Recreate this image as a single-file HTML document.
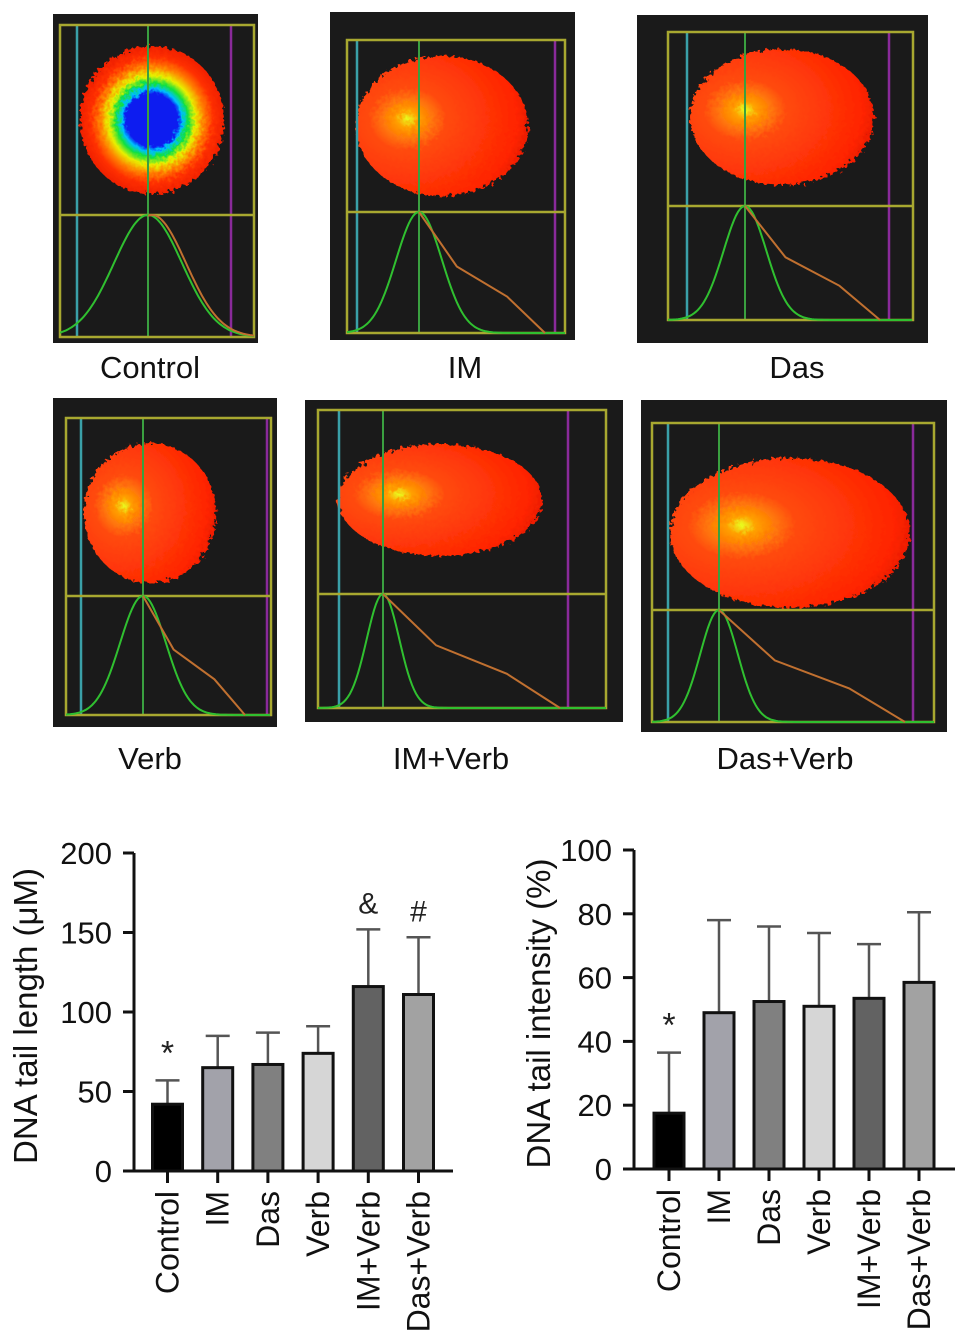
<!DOCTYPE html>
<html><head><meta charset="utf-8"><style>
body{margin:0;background:#fff;}
svg{display:block;font-family:"Liberation Sans",Arial,sans-serif;}
</style></head><body>
<svg id="fig" width="969" height="1344" viewBox="0 0 969 1344" xmlns="http://www.w3.org/2000/svg">
<defs>
<radialGradient id="cometG" cx="0.3" cy="0.45" r="0.75">
<stop offset="0" stop-color="#e8ff20"/><stop offset="0.08" stop-color="#ffa000"/><stop offset="0.3" stop-color="#ff4a10"/><stop offset="0.85" stop-color="#ff2400"/><stop offset="1" stop-color="#e01800"/>
</radialGradient>
<radialGradient id="ctrlG" cx="0.5" cy="0.5" r="0.5">
<stop offset="0.36" stop-color="#0a1ef0"/><stop offset="0.42" stop-color="#00c0ff"/><stop offset="0.5" stop-color="#10e040"/><stop offset="0.6" stop-color="#e8f000"/><stop offset="0.72" stop-color="#ff8000"/><stop offset="0.85" stop-color="#ff3000"/><stop offset="1" stop-color="#f02000"/>
</radialGradient>
<filter id="rough"><feTurbulence type="fractalNoise" baseFrequency="0.25" numOctaves="2" result="n"/><feDisplacementMap in="SourceGraphic" in2="n" scale="9"/></filter>
</defs>
<g id="panels"></g>
<g id="chart1"></g>
<g id="chart2"></g>
</svg>
<script>
const NS="http://www.w3.org/2000/svg";
function mk(p,t,a,txt){const e=document.createElementNS(NS,t);for(const k in a)e.setAttribute(k,a[k]);if(txt!==undefined)e.textContent=txt;p.appendChild(e);return e;}

const panels=[
 {name:'control',label:'Control',lx:150,ly:378,o:[53,14,258,343],f:[60,25,254,337],d:215,c:77,g:148,p:231,cx:152,cy:120,rx:72,ry:74,ctrl:true,tail:235},
 {name:'im',label:'IM',lx:465,ly:378,o:[330,12,575,340],f:[347,40,565,333],d:212,c:357,g:419,p:555,cx:442,cy:126,rx:86,ry:70,tail:545},
 {name:'das',label:'Das',lx:797,ly:378,o:[637,15,928,343],f:[668,32,913,320],d:206,c:687,g:745,p:889,cx:782,cy:117,rx:92,ry:68,tail:880},
 {name:'verb',label:'Verb',lx:150,ly:769,o:[53,398,277,727],f:[66,418,271,715],d:596,c:81,g:143,p:267,cx:150,cy:513,rx:66,ry:70,tail:245},
 {name:'im-verb',label:'IM+Verb',lx:451,ly:769,o:[305,400,623,722],f:[318,410,606,708],d:594,c:339,g:383,p:568,cx:440,cy:500,rx:102,ry:56,tail:560},
 {name:'das-verb',label:'Das+Verb',lx:785,ly:769,o:[641,400,947,732],f:[652,423,934,722],d:610,c:668,g:719,p:913,cx:790,cy:533,rx:120,ry:75,tail:905}
];
const P=document.getElementById('panels');
panels.forEach(q=>{
 const g=mk(P,'g',{});
 
 
 mk(g,'rect',{x:q.o[0],y:q.o[1],width:q.o[2]-q.o[0],height:q.o[3]-q.o[1],fill:'#1a1a1a'});
 mk(g,'ellipse',{cx:q.cx,cy:q.cy,rx:q.rx,ry:q.ry,fill:q.ctrl?'url(#ctrlG)':'url(#cometG)',filter:'url(#rough)'});
 const [x1,y1,x2,y2]=q.f;
 mk(g,'line',{x1:q.c,y1:y1,x2:q.c,y2:y2,stroke:'#3aa0a8','stroke-width':2.5});
 mk(g,'line',{x1:q.p,y1:y1,x2:q.p,y2:y2,stroke:'#8a2a9a','stroke-width':2.5});
 mk(g,'line',{x1:q.g,y1:y1,x2:q.g,y2:y2,stroke:'#3aa040','stroke-width':2});
 mk(g,'rect',{x:x1,y:y1,width:x2-x1,height:y2-y1,fill:'none',stroke:'#a8a830','stroke-width':2.5});
 mk(g,'line',{x1:x1,y1:q.d,x2:x2,y2:q.d,stroke:'#a8a830','stroke-width':2.5});
 const H=y2-q.d;let gp='';
 const w=q.ctrl?38:(q.g-q.c)*0.55;
 for(let x=x1;x<=x2;x+=2){const t=(x-q.g)/w;const yy=y2-H*Math.exp(-t*t/(q.ctrl?1.6:0.9));gp+=(gp?'L':'M')+x+','+yy.toFixed(1);}
 mk(g,'path',{d:gp,fill:'none',stroke:'#30c030','stroke-width':2});
 if(q.ctrl){let s='';for(let x=q.g;x<=x2;x+=2){const t=(x-q.g-4)/w;s+=(s?'L':'M')+x+','+(y2-H*Math.exp(-t*t/1.6)).toFixed(1);}mk(g,'path',{d:s,fill:'none',stroke:'#c07030','stroke-width':2});}
 else{mk(g,'path',{d:`M${q.g},${q.d}L${q.g+(q.tail-q.g)*0.3},${q.d+H*0.45}L${q.g+(q.tail-q.g)*0.7},${q.d+H*0.7}L${q.tail},${y2}`,fill:'none',stroke:'#c07030','stroke-width':2});}
 const t=mk(P,'text',{x:q.lx,y:q.ly,'font-size':31,'text-anchor':'middle',fill:'#111'},q.label);
 
 
});

const categories=['Control','IM','Das','Verb','IM+Verb','Das+Verb'];
const barColors=['#000','#a2a2aa','#808080','#d6d6d6','#626262','#a2a2a2'];
const lengthMeans=[42,65,67,74,116,111];
const lengthErr=[57,85,87,91,152,147];
const lengthTicks=[0,50,100,150,200];
const lengthMarks=['*','','','','&','#'];
const intensityMeans=[17.5,49,52.5,51,53.5,58.5];
const intensityErr=[36.5,78,76,74,70.5,80.5];
const intensityTicks=[0,20,40,60,80,100];
const intensityMarks=['*','','','','',''];

function chart(id,o){
 const G=document.getElementById(id);
 const ymax=o.ticks[o.ticks.length-1];
 const Y=v=>o.y0-(v/ymax)*(o.y0-o.yTop);
 const X=i=>o.x0+o.step*i;
 mk(G,'line',{x1:o.ax,y1:o.yTop,x2:o.ax,y2:o.y0,stroke:'#111','stroke-width':3});
 mk(G,'line',{x1:o.ax-11,y1:o.y0,x2:o.xEnd,y2:o.y0,stroke:'#111','stroke-width':3});
 o.ticks.forEach(v=>{
  mk(G,'line',{x1:o.ax-11,y1:Y(v),x2:o.ax,y2:Y(v),stroke:'#111','stroke-width':3});
  const t=mk(G,'text',{x:o.ax-22,y:Y(v)+11,'font-size':31,'text-anchor':'end',fill:'#111'},String(v));
  
  
 });
 const yt=mk(G,'text',{transform:`translate(${o.titleX},${(o.yTop+o.y0)/2+4}) rotate(-90)`,'font-size':33,'text-anchor':'middle',fill:'#111'},o.title);
 
 
 categories.forEach((c,i)=>{
  const cx=X(i);
  const e=mk(G,'line',{x1:cx,y1:Y(o.err[i]),x2:cx,y2:Y(o.means[i]),stroke:'#555','stroke-width':2.5});
  
  
  mk(G,'line',{x1:cx-12,y1:Y(o.err[i]),x2:cx+12,y2:Y(o.err[i]),stroke:'#555','stroke-width':2.5});
  const b=mk(G,'rect',{x:cx-15,y:Y(o.means[i]),width:30,height:o.y0-Y(o.means[i]),fill:barColors[i],stroke:'#111','stroke-width':3});
  
  
  mk(G,'line',{x1:cx,y1:o.y0,x2:cx,y2:o.y0+12,stroke:'#111','stroke-width':3});
  const l=mk(G,'text',{transform:`translate(${cx+11},${o.y0+20}) rotate(-90)`,'font-size':32,'text-anchor':'end',fill:'#111'},c);
  
  
  if(o.marks[i]){const m=mk(G,'text',{x:cx,y:Y(o.err[i])-16,'font-size':o.marks[i]=='*'?34:30,'text-anchor':'middle',fill:'#222'},o.marks[i]);
   
   }
 });
}
chart('chart1',{ax:134,yTop:853,y0:1171,x0:167.5,step:50.2,xEnd:453,ticks:lengthTicks,means:lengthMeans,err:lengthErr,marks:lengthMarks,title:'DNA tail length (\u03bcM)',titleX:37});
chart('chart2',{ax:634,yTop:850,y0:1169,x0:669,step:50,xEnd:955,ticks:intensityTicks,means:intensityMeans,err:intensityErr,marks:intensityMarks,title:'DNA tail intensity (%)',titleX:550});
</script>
</body></html>
